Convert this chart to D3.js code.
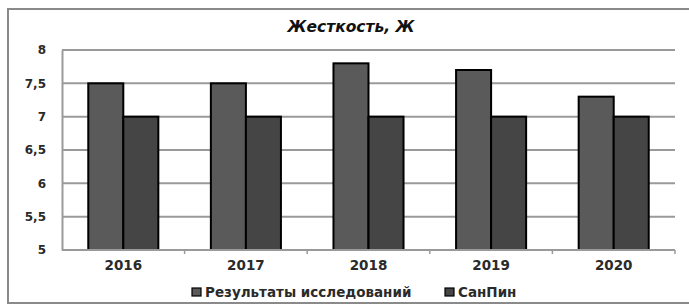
<!DOCTYPE html>
<html><head><meta charset="utf-8">
<script src="https://cdn.jsdelivr.net/npm/d3@7"></script>
<style>body{margin:0;background:#fff}svg{display:block}</style>
</head><body>
<script>
const categories = ["2016","2017","2018","2019","2020"];
const seriesNames = ["Результаты исследований","СанПин"];
const research = [7.5,7.5,7.8,7.7,7.3];
const sanpin = [7,7,7,7,7];
const yTicks = [5,5.5,6,6.5,7,7.5,8];
const yTickLabels = ["5","5,5","6","6,5","7","7,5","8"];
const title = "Жесткость, Ж";
const colors = ["#5a5a5a","#454545"];

const W=689,H=306;
const svg=d3.select("body").append("svg").attr("width",W).attr("height",H);
const font="'DejaVu Sans', Verdana, sans-serif";

// outer frame
svg.append("rect").attr("x",8).attr("y",9).attr("width",W+10).attr("height",294)
  .attr("fill","none").attr("stroke","#8a8a8a").attr("stroke-width",2);

const L=62,R=675,T=50,B=250;
const x=d3.scaleBand().domain(categories).range([L,R]).paddingInner(0).paddingOuter(0);
const y=d3.scaleLinear().domain([5,8]).range([B,T]);

// gridlines
svg.append("g").selectAll("line").data(yTicks.slice(1)).join("line")
  .attr("x1",L).attr("x2",R).attr("y1",d=>y(d)).attr("y2",d=>y(d))
  .attr("stroke","#9a9a9a").attr("stroke-width",2);

// y axis
const yAxis=d3.axisLeft(y).tickValues(yTicks).tickFormat((d,i)=>yTickLabels[i]).tickSize(0).tickPadding(16);
const gy=svg.append("g").attr("transform",`translate(${L},0)`).call(yAxis);
gy.select(".domain").attr("stroke","#9a9a9a").attr("stroke-width",2);
gy.selectAll("text").attr("font-family",font).attr("font-weight","bold").attr("font-size",12).attr("fill","#2a2a2a");

// bars
const bw=x.bandwidth()/3.5;
const data=[research,sanpin];
data.forEach((vals,s)=>{
  svg.append("g").selectAll("rect").data(vals).join("rect")
    .attr("x",(d,i)=>x(categories[i])+x.bandwidth()/2-bw+s*bw)
    .attr("y",d=>y(d)).attr("width",bw).attr("height",d=>B-y(d))
    .attr("fill",colors[s]).attr("stroke","#000").attr("stroke-width",2);
});

// x axis
const gx=svg.append("g").attr("transform",`translate(0,${B})`);
gx.append("line").attr("x1",L).attr("x2",R).attr("stroke","#9a9a9a").attr("stroke-width",2);
gx.selectAll("line.t").data(categories.map((c,i)=>i+1)).join("line").attr("class","t")
  .attr("x1",i=>L+i*x.step()).attr("x2",i=>L+i*x.step()).attr("y1",0).attr("y2",4)
  .attr("stroke","#9a9a9a").attr("stroke-width",1.5);
gx.selectAll("text").data(categories).join("text")
  .attr("x",d=>x(d)+x.bandwidth()/2).attr("y",20).attr("text-anchor","middle")
  .attr("font-family",font).attr("font-weight","bold").attr("font-size",13.5).attr("fill","#2a2a2a").text(d=>d);

// title
svg.append("text").attr("x",351).attr("y",32).attr("text-anchor","middle")
  .attr("font-family",font).attr("font-weight","bold").attr("font-style","italic")
  .attr("font-size",15.5).attr("fill","#111").text(title);

// legend
const legX=[192,445];
seriesNames.forEach((n,i)=>{
  svg.append("rect").attr("x",legX[i]).attr("y",288).attr("width",9).attr("height",8)
    .attr("fill",colors[i]).attr("stroke","#000").attr("stroke-width",1.2);
  svg.append("text").attr("x",legX[i]+13).attr("y",297).attr("font-family",font)
    .attr("font-weight","bold").attr("font-size",13.5).attr("fill","#2a2a2a").text(n);
});
</script>
</body></html>
